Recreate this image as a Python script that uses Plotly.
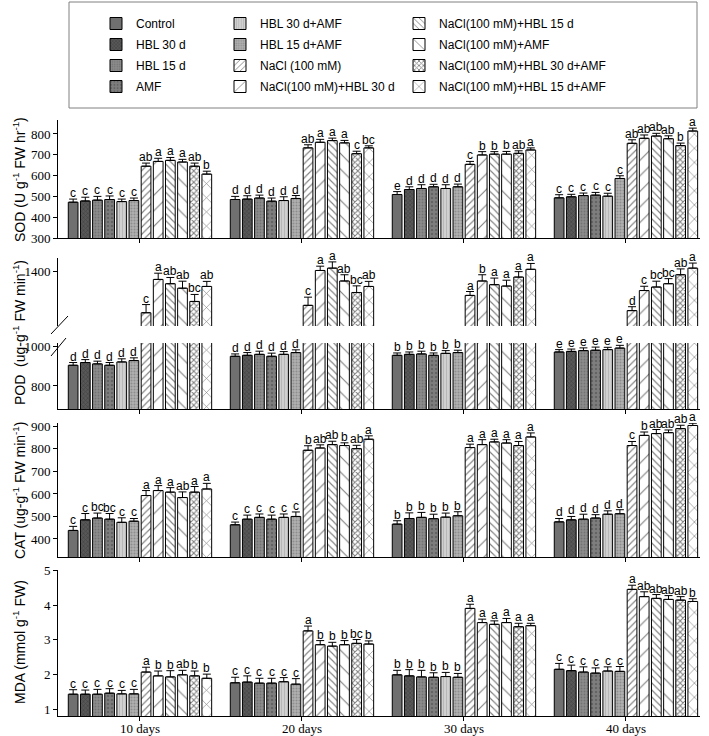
import plotly.graph_objects as go

days = ["10 days", "20 days", "30 days", "40 days"]
treatments = ["Control", "HBL 30 d", "HBL 15 d", "AMF", "HBL 30 d+AMF", "HBL 15 d+AMF",
              "NaCl (100 mM)", "NaCl(100 mM)+HBL 30 d", "NaCl(100 mM)+HBL 15 d",
              "NaCl(100 mM)+AMF", "NaCl(100 mM)+HBL 30 d+AMF", "NaCl(100 mM)+HBL 15 d+AMF"]

# rows = days, columns = treatments
sod_mean = [[472, 478, 482, 485, 475, 480, 645, 668, 673, 665, 645, 607],
            [485, 487, 492, 477, 480, 490, 733, 760, 768, 757, 705, 733],
            [509, 533, 538, 546, 538, 546, 654, 699, 703, 703, 707, 723],
            [493, 498, 504, 506, 501, 586, 755, 779, 790, 777, 744, 814]]
sod_err = [[15, 18, 18, 17, 12, 12, 15, 15, 14, 13, 15, 14],
           [15, 16, 14, 15, 18, 14, 15, 14, 12, 12, 12, 10],
           [14, 13, 18, 12, 18, 13, 14, 16, 12, 13, 12, 10],
           [15, 12, 12, 13, 14, 13, 17, 16, 13, 14, 12, 14]]
sod_lab = [["c"] * 6 + ["ab", "a", "a", "a", "ab", "b"],
           ["d"] * 6 + ["ab", "a", "a", "a", "c", "bc"],
           ["e"] + ["d"] * 5 + ["c", "b", "b", "b", "ab", "a"],
           ["c"] * 6 + ["ab", "ab", "ab", "ab", "b", "a"]]

pod_mean = [[906, 920, 913, 906, 923, 930, 1186, 1357, 1335, 1312, 1244, 1321],
            [952, 957, 962, 952, 962, 971, 1224, 1403, 1415, 1349, 1290, 1321],
            [957, 962, 964, 957, 967, 971, 1275, 1349, 1330, 1323, 1369, 1409],
            [974, 977, 981, 983, 986, 994, 1197, 1300, 1318, 1335, 1381, 1415]]
pod_err = [[14, 15, 14, 14, 16, 14, 42, 32, 32, 36, 36, 26],
           [12, 14, 16, 16, 14, 14, 42, 22, 32, 32, 34, 26],
           [12, 12, 14, 12, 14, 12, 20, 32, 34, 30, 28, 30],
           [12, 12, 14, 16, 12, 14, 20, 22, 30, 26, 30, 26]]
pod_lab = [["d"] * 6 + ["c", "a", "ab", "ab", "bc", "ab"],
           ["d"] * 6 + ["c", "a", "a", "ab", "bc", "ab"],
           ["b"] * 6 + ["a", "b", "a", "a", "a", "a"],
           ["e"] * 6 + ["d", "c", "bc", "bc", "ab", "a"]]

cat_mean = [[438, 485, 493, 488, 474, 479, 593, 615, 608, 584, 608, 622],
            [463, 488, 496, 488, 496, 500, 794, 804, 819, 815, 801, 843],
            [466, 491, 496, 490, 497, 503, 806, 819, 831, 826, 815, 853],
            [476, 485, 488, 493, 510, 512, 815, 860, 868, 872, 890, 904]]
cat_err = [[18, 28, 22, 25, 20, 12, 22, 22, 20, 25, 25, 25],
           [12, 18, 15, 18, 15, 20, 20, 14, 15, 12, 15, 15],
           [15, 25, 22, 20, 18, 18, 15, 22, 12, 15, 18, 18],
           [15, 15, 22, 15, 15, 18, 18, 15, 18, 12, 15, 10]]
cat_lab = [["c", "c", "bc", "bc", "c", "c", "a", "a", "a", "ab", "a", "a"],
           ["c"] * 6 + ["b", "ab", "ab", "b", "ab", "a"],
           ["b"] * 6 + ["a"] * 6,
           ["d"] * 6 + ["c", "b", "ab", "ab", "ab", "a"]]

mda_mean = [[1.43, 1.43, 1.43, 1.46, 1.44, 1.44, 2.07, 1.96, 1.93, 1.99, 1.96, 1.89],
            [1.76, 1.78, 1.75, 1.75, 1.79, 1.72, 3.26, 2.86, 2.82, 2.86, 2.90, 2.88],
            [1.99, 1.96, 1.93, 1.92, 1.94, 1.92, 3.91, 3.50, 3.45, 3.50, 3.38, 3.41],
            [2.15, 2.11, 2.07, 2.04, 2.10, 2.09, 4.46, 4.25, 4.20, 4.17, 4.15, 4.11]]
mda_err = [[0.13, 0.12, 0.14, 0.13, 0.10, 0.13, 0.14, 0.14, 0.18, 0.13, 0.14, 0.12],
           [0.16, 0.18, 0.14, 0.14, 0.12, 0.16, 0.14, 0.12, 0.11, 0.12, 0.11, 0.09],
           [0.13, 0.18, 0.19, 0.13, 0.12, 0.11, 0.12, 0.10, 0.10, 0.12, 0.10, 0.07],
           [0.17, 0.16, 0.15, 0.15, 0.12, 0.14, 0.12, 0.14, 0.11, 0.11, 0.10, 0.08]]
mda_lab = [["c"] * 6 + ["a", "b", "b", "ab", "b", "b"],
           ["c"] * 6 + ["a", "b", "b", "b", "bc", "b"],
           ["b"] * 6 + ["a"] * 6,
           ["c"] * 6 + ["a", "ab", "ab", "ab", "ab", "b"]]

# styles
fills = ["#707070", "#585858", "#8c8c8c", "#7e7e7e", "#d0d0d0", "#b0b0b0",
         "white", "white", "white", "white", "white", "white"]
pats = [dict(shape=""),
        dict(shape="x", size=3, solidity=0.4, fgcolor="#303030"),
        dict(shape=".", size=3, solidity=0.3, fgcolor="#5a5a5a"),
        dict(shape=".", size=4, solidity=0.3, fgcolor="#4a4a4a"),
        dict(shape="|", size=3, solidity=0.3, fgcolor="#9a9a9a"),
        dict(shape=".", size=3, solidity=0.35, fgcolor="#6a6a6a"),
        dict(shape="/", size=5, solidity=0.22, fgcolor="black"),
        dict(shape="/", size=11, solidity=0.1, fgcolor="black"),
        dict(shape="\\", size=5, solidity=0.22, fgcolor="black"),
        dict(shape="\\", size=11, solidity=0.1, fgcolor="black"),
        dict(shape="x", size=4, solidity=0.45, fgcolor="black"),
        dict(shape="x", size=10, solidity=0.12, fgcolor="black")]
legend_of = ["legend"] * 4 + ["legend2"] * 4 + ["legend3"] * 4

W, H = 709, 736
L, R = 58, 9
PW = W - L - R


def px_x(p):
    return (p - L) / PW


def px_y(p):
    return 1 - p / H


x_range = [-0.506, 3.457]
BARGAP, NTR = 0.1, 12
slot = (1 - BARGAP) / NTR

fig = go.Figure()

# panel definitions: (data mean, err, labels, xaxis, yaxis, label indices)
panels = [
    (mda_mean, mda_err, mda_lab, "x", "y", range(12)),
    (cat_mean, cat_err, cat_lab, "x2", "y2", range(12)),
    (pod_mean, pod_err, pod_lab, "x3", "y3", range(6)),
    (pod_mean, pod_err, pod_lab, "x4", "y4", range(6, 12)),
    (sod_mean, sod_err, sod_lab, "x5", "y5", range(12)),
]

annotations = []
for pi, (mean, err, lab, xa, ya, lab_idx) in enumerate(panels):
    for i, name in enumerate(treatments):
        yv = [mean[d][i] for d in range(4)]
        ev = [err[d][i] for d in range(4)]
        pat = dict(pats[i])
        if pat.get("shape"):
            pat["fillmode"] = "overlay"
        fig.add_trace(go.Bar(
            x=[0, 1, 2, 3], y=yv, name=name, xaxis=xa, yaxis=ya,
            marker=dict(color=fills[i], line=dict(color="black", width=1), pattern=pat),
            error_y=dict(type="data", symmetric=False, array=ev, arrayminus=[0] * 4,
                         color="black", thickness=1, width=4),
            legendgroup=name, showlegend=(pi == 0), legend=legend_of[i],
        ))
        if i in lab_idx:
            for d in range(4):
                annotations.append(dict(
                    x=d - (1 - BARGAP) / 2 + (i + 0.5) * slot, y=yv[d] + ev[d],
                    xref=xa, yref=ya, text=lab[d][i], showarrow=False,
                    yanchor="bottom", yshift=-3,
                    font=dict(family="Liberation Sans", size=12, color="black")))

# y-axis titles
ytitles = [("SOD (U g<sup>-1</sup> FW hr<sup>-1</sup>)", 180),
           ("POD  (ug-g<sup>-1</sup> FW min<sup>-1</sup>)", 333),
           ("CAT (ug-g<sup>-1</sup> FW min<sup>-1</sup>)", 490),
           ("MDA (mmol g<sup>-1</sup> FW)", 642)]
for t, py in ytitles:
    annotations.append(dict(x=px_x(19), y=px_y(py), xref="paper", yref="paper", text=t,
                            showarrow=False, textangle=-90, xanchor="center", yanchor="middle",
                            font=dict(family="Liberation Sans", size=14, color="black")))

tickfont = dict(family="Liberation Serif", size=13, color="black")
common_x = dict(range=x_range, showline=True, linecolor="black", linewidth=1, ticks="outside",
                ticklen=4, tickcolor="black", tickvals=[0, 1, 2, 3], ticktext=days,
                showgrid=False, zeroline=False, tickfont=tickfont, automargin=False)
common_y = dict(showline=True, linecolor="black", linewidth=1, ticks="outside", ticklen=4,
                tickcolor="black", showgrid=False, zeroline=False, tickfont=tickfont,
                automargin=False)

layout = dict(
    width=W, height=H, margin=dict(l=L, r=R, t=0, b=0, autoexpand=False),
    paper_bgcolor="white", plot_bgcolor="white",
    barmode="group", bargap=BARGAP, bargroupgap=0.2,
    font=dict(family="Liberation Sans", size=12, color="black"),
    annotations=annotations,
    xaxis=dict(common_x, anchor="y", ticklabelstandoff=-4),
    xaxis2=dict(common_x, anchor="y2", matches="x", showticklabels=False),
    xaxis3=dict(common_x, anchor="y3", matches="x", showticklabels=False),
    xaxis4=dict(common_x, anchor="y4", matches="x", showticklabels=False, showline=False, ticks=""),
    xaxis5=dict(common_x, anchor="y5", matches="x", showticklabels=False),
    yaxis=dict(common_y, anchor="x", domain=[px_y(716), px_y(570)], range=[0.8, 5.02],
               tickvals=[1, 2, 3, 4, 5]),
    yaxis2=dict(common_y, anchor="x2", domain=[px_y(557), px_y(423)], range=[320, 915],
                tickvals=[400, 500, 600, 700, 800, 900]),
    yaxis3=dict(common_y, anchor="x3", domain=[px_y(409), px_y(343)], range=[682, 1020],
                tickvals=[800, 1000]),
    yaxis4=dict(common_y, anchor="x4", domain=[px_y(326), px_y(258)], range=[1118, 1467],
                tickvals=[1400]),
    yaxis5=dict(common_y, anchor="x5", domain=[px_y(238), px_y(120)], range=[300, 867],
                tickvals=[300, 400, 500, 600, 700, 800]),
    showlegend=True,
)
legfont = dict(family="Liberation Sans", size=12, color="black")
for key, xp in (("legend", 96), ("legend2", 220), ("legend3", 399)):
    layout[key] = dict(x=px_x(xp), y=px_y(9), xanchor="left", yanchor="top", orientation="v",
                       bgcolor="rgba(0,0,0,0)", font=legfont, tracegroupgap=2,
                       itemclick=False, itemdoubleclick=False)

# legend frame and axis-break marks (decoration)
layout["shapes"] = [
    dict(type="rect", xref="paper", yref="paper", x0=px_x(69), x1=px_x(697),
         y0=px_y(108), y1=px_y(2), line=dict(color="#808080", width=1)),
    dict(type="line", xref="paper", yref="paper", x0=px_x(51), y0=px_y(334),
         x1=px_x(68), y1=px_y(316), line=dict(color="black", width=1)),
    dict(type="line", xref="paper", yref="paper", x0=px_x(51), y0=px_y(356),
         x1=px_x(66), y1=px_y(338), line=dict(color="black", width=1)),
]
fig.update_layout(**layout)
fig.write_html("out.html", config={"displayModeBar": False},
               post_script="document.body.style.margin='0';")
